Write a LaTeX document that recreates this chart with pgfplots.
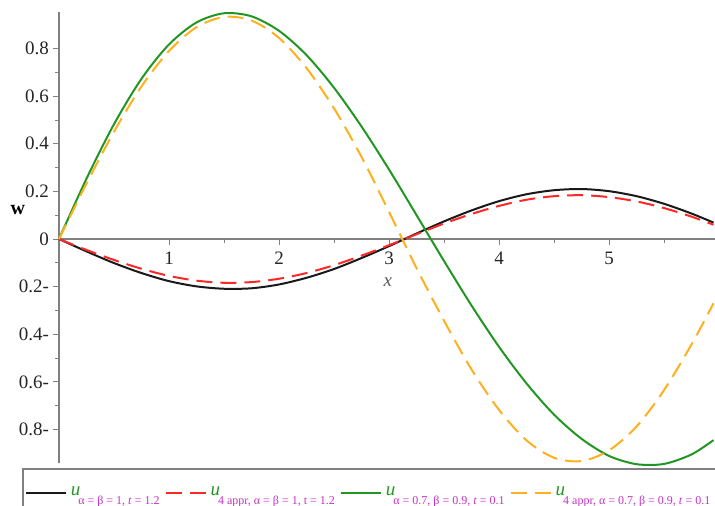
\documentclass[border=0pt]{standalone}
\usepackage{fontspec}
\setmainfont{Liberation Serif}
\usepackage{pgfplots}
\pgfplotsset{compat=1.18}

\definecolor{ublack}{RGB}{25,25,25}
\definecolor{ured}{RGB}{255,40,40}
\definecolor{ugreen}{RGB}{34,150,34}
\definecolor{uorange}{RGB}{255,176,30}
\definecolor{umag}{RGB}{200,50,200}
\definecolor{axgray}{RGB}{128,128,128}

\newcommand{\usub}[1]{{\color{ugreen}\fontsize{9.5}{9.5}\selectfont\itshape u}\hspace{-1pt}\raisebox{-4.3pt}{\color{umag}\fontsize{6}{6}\selectfont #1}}

\begin{document}
\begin{tikzpicture}
\begin{axis}[
  anchor=origin, at={(0pt,0pt)},
  x=55pt, y=119pt,
  xmin=0, xmax=6.05, ymin=-0.94, ymax=0.953,
  axis lines=middle,
  axis line style={draw=axgray, line width=0.9pt, -},
  xtick={1,2,3,4,5,6}, xticklabels={1,2,3,4,5,6},
  ytick={-0.8,-0.6,-0.4,-0.2,0,0.2,0.4,0.6,0.8},
  yticklabels={0.8-,0.6-,0.4-,0.2-,0,0.2,0.4,0.6,0.8},
  minor x tick num=1, minor y tick num=1,
  hide obscured y ticks=false,
  tick align=outside,
  major tick length=3pt, minor tick length=2pt,
  tick style={draw=axgray, line width=0.5pt},
  ticklabel style={font=\fontsize{9.5}{9.5}\selectfont, text=black!85},
  yticklabel style={xshift=1.5pt},
  clip=false,
  legend columns=4,
  legend cell align=left,
  legend style={at={(-0.0556,-0.0117)}, anchor=north west,
    draw=axgray, line width=0.8pt, fill=white,
    inner xsep=1pt, inner ysep=7pt,
    /tikz/every even column/.append style={column sep=0.5pt}},
  legend image code/.code={\draw[#1] (0pt,0pt) -- (20pt,0pt);},
]
% u, alpha = beta = 1, t = 1.2
\addplot[ublack, line width=1pt, smooth] coordinates {
(0,0) (0.25,-0.052) (0.5,-0.101) (0.75,-0.143) (1,-0.177) (1.25,-0.199)
(1.5,-0.209) (1.75,-0.207) (2,-0.191) (2.25,-0.163) (2.5,-0.126) (2.75,-0.080)
(3,-0.030) (3.25,0.023) (3.5,0.074) (3.75,0.120) (4,0.159) (4.25,0.188)
(4.5,0.205) (4.75,0.210) (5,0.201) (5.25,0.180) (5.5,0.148) (5.75,0.107) (5.95,0.069)
};
\addlegendentry{\usub{α = β = 1, \textit{t} = 1.2}}
% 4 appr, alpha = beta = 1, t = 1.2
\addplot[ured, line width=1pt, dash pattern=on 8pt off 4pt, smooth] coordinates {
(0,0) (0.25,-0.046) (0.5,-0.088) (0.75,-0.125) (1,-0.155) (1.25,-0.175)
(1.5,-0.184) (1.75,-0.181) (2,-0.167) (2.25,-0.143) (2.5,-0.110) (2.75,-0.070)
(3,-0.026) (3.25,0.020) (3.5,0.065) (3.75,0.105) (4,0.139) (4.25,0.165)
(4.5,0.180) (4.75,0.184) (5,0.176) (5.25,0.158) (5.5,0.130) (5.75,0.094) (5.95,0.060)
};
\addlegendentry{\usub{4 appr, α = β = 1, t = 1.2}}
% alpha = 0.7, beta = 0.9, t = 0.1
\addplot[ugreen, line width=1pt, smooth] coordinates {
(0,0) (0.25,0.2535) (0.5,0.4824) (0.75,0.6734) (1,0.8175) (1.25,0.9099)
(1.5,0.9485) (1.75,0.9356) (2,0.8749) (2.25,0.7727) (2.5,0.6355) (2.75,0.4727)
(3,0.2922) (3.25,0.1005) (3.5,-0.0922) (3.75,-0.2793) (4,-0.4529) (4.25,-0.6066)
(4.5,-0.7378) (4.75,-0.8393) (5,-0.9113) (5.25,-0.9461) (5.5,-0.9450) (5.75,-0.9051)
(5.95,-0.8450)
};
\addlegendentry{\usub{α = 0.7, β = 0.9, \textit{t} = 0.1}}
% 4 appr, alpha = 0.7, beta = 0.9, t = 0.1
\addplot[uorange, line width=1pt, dash pattern=on 8pt off 4pt, smooth] coordinates {
(0,0) (0.25,0.233) (0.5,0.451) (0.75,0.641) (1,0.790) (1.25,0.890)
(1.5,0.933) (1.75,0.918) (2,0.845) (2.25,0.718) (2.5,0.549) (2.75,0.345)
(3,0.114) (3.25,-0.122) (3.5,-0.343) (3.75,-0.548) (4,-0.718)
(4.25,-0.846) (4.5,-0.919) (4.75,-0.933) (5,-0.888) (5.25,-0.788) (5.5,-0.635)
(5.75,-0.443) (5.95,-0.270)
};
\addlegendentry{\usub{4 appr, α = 0.7, β = 0.9, \textit{t} = 0.1}}
\node[text=axgray!70!black, font=\fontsize{9.5}{9.5}\selectfont\itshape] at (axis cs:2.99,-0.18) {x};
\node[font=\fontsize{10}{10}\selectfont\bfseries] at (axis cs:-0.373,0.122) {w};
\end{axis}
\pgfresetboundingbox
\useasboundingbox (-29.5pt,-133pt) rectangle (328pt,119.5pt);
\end{tikzpicture}
\end{document}
